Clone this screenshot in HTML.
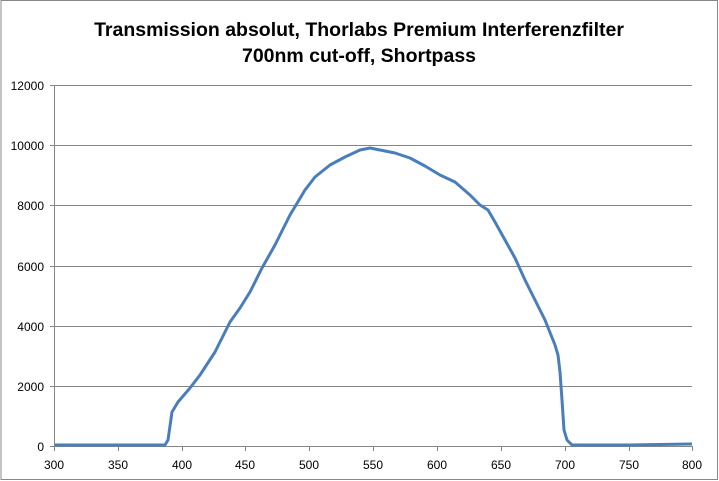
<!DOCTYPE html>
<html><head><meta charset="utf-8"><style>
body{margin:0;background:#fff;}
svg{display:block;font-family:"Liberation Sans",sans-serif;}
</style></head><body>
<svg width="719" height="481" viewBox="0 0 719 481">
<rect x="1" y="0.5" width="716.5" height="479" fill="#fff" stroke="#888" stroke-width="1"/>
<text x="359" y="36" text-anchor="middle" font-size="19.5" font-weight="bold">Transmission absolut, Thorlabs Premium Interferenzfilter</text>
<text x="359" y="62" text-anchor="middle" font-size="19.5" font-weight="bold">700nm cut-off, Shortpass</text>
<g stroke="#868686" stroke-width="1">
<line x1="50" y1="85.5" x2="692" y2="85.5"/>
<line x1="50" y1="145.5" x2="692" y2="145.5"/>
<line x1="50" y1="205.5" x2="692" y2="205.5"/>
<line x1="50" y1="266.5" x2="692" y2="266.5"/>
<line x1="50" y1="326.5" x2="692" y2="326.5"/>
<line x1="50" y1="386.5" x2="692" y2="386.5"/>
<line x1="50" y1="446.5" x2="693" y2="446.5"/>
<line x1="54.5" y1="85" x2="54.5" y2="446"/>
<line x1="54.5" y1="446" x2="54.5" y2="451"/>
<line x1="118.5" y1="446" x2="118.5" y2="451"/>
<line x1="182.5" y1="446" x2="182.5" y2="451"/>
<line x1="245.5" y1="446" x2="245.5" y2="451"/>
<line x1="309.5" y1="446" x2="309.5" y2="451"/>
<line x1="373.5" y1="446" x2="373.5" y2="451"/>
<line x1="437.5" y1="446" x2="437.5" y2="451"/>
<line x1="501.5" y1="446" x2="501.5" y2="451"/>
<line x1="565.5" y1="446" x2="565.5" y2="451"/>
<line x1="629.5" y1="446" x2="629.5" y2="451"/>
<line x1="692.5" y1="446" x2="692.5" y2="451"/>
</g>
<g font-size="12" text-anchor="end" fill="#000">
<text x="44" y="90">12000</text><text x="44" y="150">10000</text><text x="44" y="210">8000</text>
<text x="44" y="271">6000</text><text x="44" y="331">4000</text><text x="44" y="391">2000</text><text x="44" y="451">0</text>
</g>
<g font-size="12" text-anchor="middle" fill="#000">
<text x="54" y="469">300</text><text x="118" y="469">350</text><text x="182" y="469">400</text><text x="245" y="469">450</text>
<text x="309" y="469">500</text><text x="373" y="469">550</text><text x="437" y="469">600</text><text x="501" y="469">650</text>
<text x="565" y="469">700</text><text x="629" y="469">750</text><text x="692" y="469">800</text>
</g>
<polyline fill="none" stroke="#4a7ebb" stroke-width="3" stroke-linejoin="round" points="55,445 165,445 168,440 172,412 178,402 190,388 200,375 215,352 230,322 240,308 250,292 262,268 275,245 290,215 305,190 315,177 330,165 345,157 360,150 370,148 380,150 395,153 410,158 425,166 440,175 455,182 470,195 480,205 488,210 495,222 505,240 515,258 525,280 535,300 545,320 555,345 558,355 560,372 562,400 564,430 567,440 572,445 630,445 692,444"/>
</svg>
</body></html>
